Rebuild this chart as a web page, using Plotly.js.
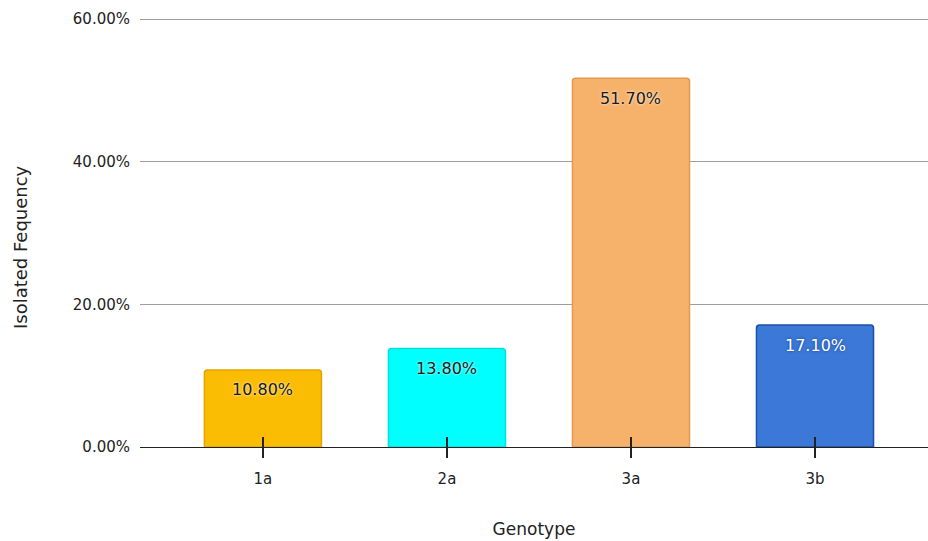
<!DOCTYPE html>
<html>
<head>
<meta charset="utf-8">
<script src="https://cdn.plot.ly/plotly-3.0.1.min.js"></script>
<style>html,body{margin:0;padding:0;background:#fff;}#chart{width:928px;height:541px;}</style>
</head>
<body>
<div id="chart"></div>
<script>
const categories = ["1a", "2a", "3a", "3b"];
const values = [0.108, 0.138, 0.517, 0.171];
const labels = ["10.80%", "13.80%", "51.70%", "17.10%"];
const barColors = ["#FBBC04", "#00FFFF", "#F6B26B", "#3C78D8"];
const borderColors = ["#E2A500", "#00E0E0", "#E39A50", "#1C4FA8"];
const labelColors = ["#1a1a1a", "#1a1a1a", "#1a1a1a", "#ffffff"];
const labelShadows = ["0 0 3px #ffffff", "0 0 3px #ffffff", "0 0 3px #ffffff", "0 0 3px #1C4587"];
const yTickVals = [0, 0.2, 0.4, 0.6];
const yTickText = ["0.00%", "20.00%", "40.00%", "60.00%"];
const xTitle = "Genotype";
const yTitle = "Isolated Fequency";

const FONT = "'DejaVu Sans', Verdana, sans-serif";

const trace = {
  type: "bar",
  x: categories,
  y: values,
  width: 0.636,
  marker: {color: barColors, line: {color: borderColors, width: 1.5}, cornerradius: 3},
  hoverinfo: "skip"
};
// invisible helper trace on the overlay axis so inside ticks show
const helper = {type: "bar", x: categories, y: values.map(() => 0), xaxis: "x2", yaxis: "y", showlegend: false, hoverinfo: "skip", marker: {color: "rgba(0,0,0,0)"}};

const annotations = categories.map((c, i) => ({
  x: c, y: values[i], xref: "x", yref: "y",
  text: labels[i], showarrow: false,
  yanchor: "middle", yshift: -20,
  font: {family: FONT, size: 16, color: labelColors[i], shadow: labelShadows[i]}
}));
annotations.push({
  xref: "paper", yref: "paper", x: 0, y: 0.465, xshift: -120,
  xanchor: "center", yanchor: "middle", textangle: -90,
  text: yTitle, showarrow: false,
  font: {family: FONT, size: 18, color: "#222"}
});

const layout = {
  width: 928, height: 541,
  margin: {l: 140, r: 0, t: 17, b: 94},
  paper_bgcolor: "#fff", plot_bgcolor: "#fff",
  showlegend: false,
  bargap: 0.364,
  font: {family: FONT, color: "#222"},
  annotations: annotations,
  xaxis: {
    type: "category",
    range: [-0.668, 3.614],
    showgrid: false,
    showline: true, linecolor: "#222", linewidth: 1.3,
    ticks: "outside", ticklen: 10, tickwidth: 1.5, tickcolor: "#222",
    ticklabelstandoff: 8,
    tickfont: {family: FONT, size: 15, color: "#222"},
    title: {text: xTitle, font: {family: FONT, size: 17, color: "#222"}, standoff: 35},
    zeroline: false,
    automargin: false
  },
  xaxis2: {
    type: "category",
    overlaying: "x",
    anchor: "y",
    side: "bottom",
    matches: "x",
    range: [-0.668, 3.614],
    showgrid: false, showline: false,
    ticks: "inside", ticklen: 10, tickwidth: 1.5, tickcolor: "#222",
    showticklabels: false,
    zeroline: false
  },
  yaxis: {
    range: [0, 0.603],
    tickvals: yTickVals, ticktext: yTickText,
    showgrid: true, gridcolor: "#9e9e9e", gridwidth: 1,
    showline: false, zeroline: false,
    ticks: "", ticklabelstandoff: 9,
    tickfont: {family: FONT, size: 15, color: "#222"},
    automargin: false
  }
};

Plotly.newPlot("chart", [trace, helper], layout, {displayModeBar: false, staticPlot: true});
</script>
</body>
</html>
